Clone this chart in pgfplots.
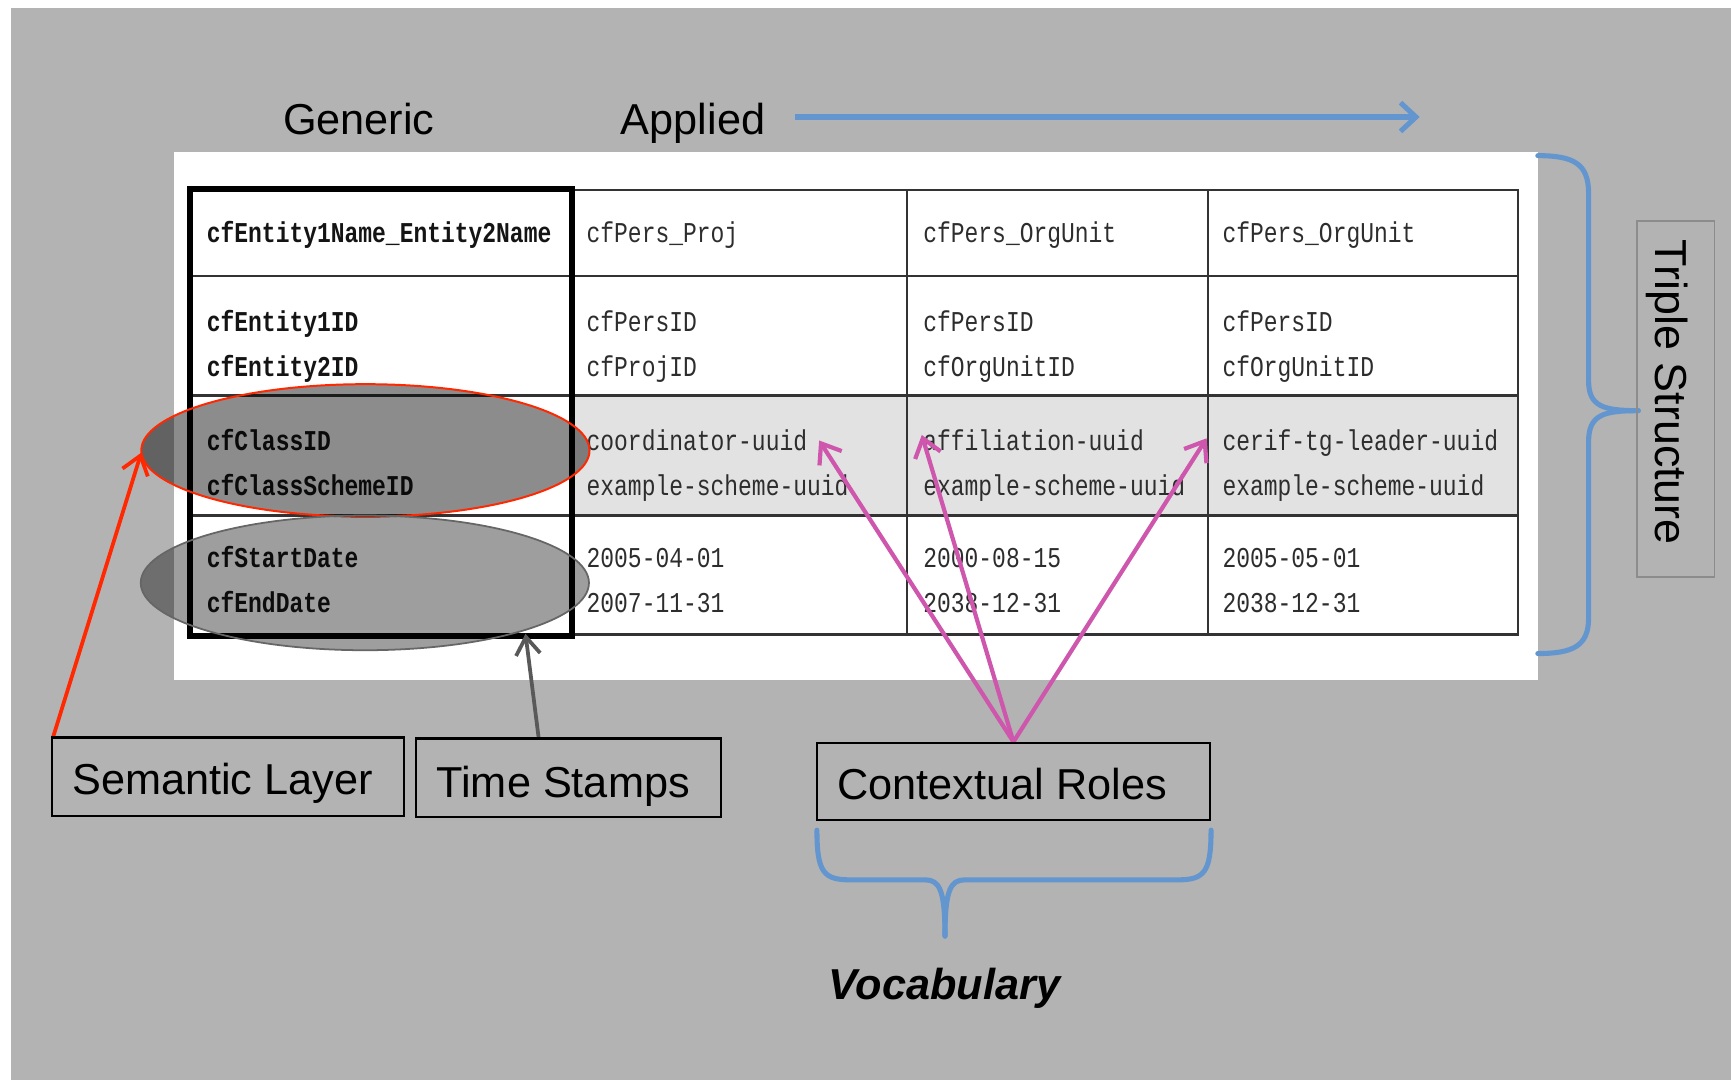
\documentclass[border=0pt]{standalone}
\usepackage{graphicx}
\usepackage{pgfplots}
\pgfplotsset{compat=1.18}
\usepackage{fontspec}
\setmainfont{Liberation Sans}
\setmonofont{Liberation Mono}
\usetikzlibrary{arrows.meta}
\definecolor{bg}{RGB}{179,179,179}
\definecolor{bl}{RGB}{99,150,206}
\definecolor{pk}{RGB}{206,86,172}
\definecolor{rd}{RGB}{255,40,0}
\definecolor{rowgray}{RGB}{226,226,226}
\definecolor{txt}{RGB}{45,45,45}
\newcommand{\hd}{\fontsize{19.6}{22}\selectfont}
\newcommand{\tb}[1]{\scalebox{0.8}[1]{\fontsize{13}{15}\ttfamily #1}}
\newcommand{\tbb}[1]{\scalebox{0.8}[1]{\fontsize{13}{15}\ttfamily\bfseries #1}}
\tikzset{
  tl/.style={anchor=base west, inner sep=0pt, text=txt},
  tk/.style={anchor=base west, inner sep=0pt, text=black!92},
  hl/.style={anchor=base west, inner sep=0pt, text=black},
  pka/.style={pk, line width=1.9pt, -{Straight Barb[length=8pt,width=12pt,line width=1.9pt]}}}
\begin{document}
\begin{tikzpicture}
\begin{axis}[scale only axis, width=784pt, height=489pt,
  xmin=0, xmax=1568, ymin=0, ymax=978, y dir=reverse,
  hide axis, clip=false]
% background
\fill[white] (0,0) rectangle (1568,978);
\fill[bg] (10,7) rectangle (1568,978);
\fill[white] (158,138) rectangle (1393,616);
\fill[rowgray] (518,358) rectangle (1375,467);
% table grid
\draw[black!80, line width=1.2pt] (518,172) -- (1375,172) -- (1375,575) -- (518,575);
\draw[black!80, line width=1.3pt] (172,250) -- (1375,250);
\draw[black!80, line width=1.3pt] (172,358) -- (1375,358);
\draw[black!80, line width=1.3pt] (172,467) -- (1375,467);
\draw[black!80, line width=0.9pt] (822,172) -- (822,575);
\draw[black!80, line width=0.9pt] (1094,172) -- (1094,575);
\draw[black, line width=2.6pt] (172,171) rectangle (518,576);
% table text: generic column
\node[tk] at (187,220) {\tbb{cfEntity1Name\_Entity2Name}};
\node[tk] at (187,300) {\tbb{cfEntity1ID}};
\node[tk] at (187,341) {\tbb{cfEntity2ID}};
\node[tk] at (187,408) {\tbb{cfClassID}};
\node[tk] at (187,449) {\tbb{cfClassSchemeID}};
\node[tk] at (187,514) {\tbb{cfStartDate}};
\node[tk] at (187,555) {\tbb{cfEndDate}};
% applied columns
\node[tl] at (531,220) {\tb{cfPers\_Proj}};
\node[tl] at (836,220) {\tb{cfPers\_OrgUnit}};
\node[tl] at (1107,220) {\tb{cfPers\_OrgUnit}};
\node[tl] at (531,300) {\tb{cfPersID}};
\node[tl] at (531,341) {\tb{cfProjID}};
\node[tl] at (836,300) {\tb{cfPersID}};
\node[tl] at (836,341) {\tb{cfOrgUnitID}};
\node[tl] at (1107,300) {\tb{cfPersID}};
\node[tl] at (1107,341) {\tb{cfOrgUnitID}};
\node[tl] at (531,408) {\tb{coordinator-uuid}};
\node[tl] at (531,449) {\tb{example-scheme-uuid}};
\node[tl] at (836,408) {\tb{affiliation-uuid}};
\node[tl] at (836,449) {\tb{example-scheme-uuid}};
\node[tl] at (1107,408) {\tb{cerif-tg-leader-uuid}};
\node[tl] at (1107,449) {\tb{example-scheme-uuid}};
\node[tl] at (531,514) {\tb{2005-04-01}};
\node[tl] at (531,555) {\tb{2007-11-31}};
\node[tl] at (836,514) {\tb{2000-08-15}};
\node[tl] at (836,555) {\tb{2038-12-31}};
\node[tl] at (1107,514) {\tb{2005-05-01}};
\node[tl] at (1107,555) {\tb{2038-12-31}};
% ellipses
\filldraw[draw=rd, line width=0.9pt, fill=black, fill opacity=0.45] (331,408) ellipse [x radius=101.5pt, y radius=30pt];
\filldraw[draw=black!60, line width=0.8pt, fill=black, fill opacity=0.38] (330.5,528) ellipse [x radius=101.5pt, y radius=30.5pt];
% headings
\node[hl] at (256,122) {\hd Generic};
\node[hl] at (562,122) {\hd Applied};
\draw[bl, line width=2.3pt, -{Straight Barb[length=7pt,width=13pt,line width=2.3pt]}] (720,106) -- (1286,106);
% right brace
\draw[bl, line width=2.3pt, line cap=round] (1393,141) .. controls (1425,141) and (1439,148) .. (1439,175) -- (1439,345) .. controls (1439,368) and (1452,372) .. (1484,372);
\draw[bl, line width=2.3pt, line cap=round] (1393,592) .. controls (1425,592) and (1439,585) .. (1439,560) -- (1439,400) .. controls (1439,376) and (1452,372) .. (1484,372);
\draw[black!45, line width=0.8pt] (1483,200) rectangle (1553,523);
\node[rotate=-90, anchor=base west, inner sep=0pt] at (1500,217) {\fontsize{20.3}{22}\selectfont Triple Structure};
% arrows
\draw[rd, line width=1.7pt, -{Straight Barb[length=8pt,width=12pt,line width=1.7pt]}] (48,668) -- (128,410);
\draw[black!65, line width=1.7pt, -{Straight Barb[length=8pt,width=11pt,line width=1.7pt]}] (488,669) -- (476,574);
\draw[pka] (918,672) -- (742,399);
\draw[pka] (918,672) -- (835,394);
\draw[pka] (918,672) -- (1093,397);
% boxes
\draw[black, line width=1pt] (47,668) rectangle (366,739);
\draw[black, line width=1pt] (377,669) rectangle (653,740);
\draw[black, line width=1pt] (740,673) rectangle (1096,743);
\node[hl] at (65,720) {\hd Semantic Layer};
\node[hl] at (395,722) {\hd Time Stamps};
\node[hl] at (758,724) {\hd Contextual Roles};
% bottom brace
\draw[bl, line width=2.3pt, line cap=round] (740,752) .. controls (740,790) and (746,797) .. (770,797) -- (838,797) .. controls (851,797) and (856,806) .. (856,848);
\draw[bl, line width=2.3pt, line cap=round] (1097,752) .. controls (1097,790) and (1091,797) .. (1067,797) -- (874,797) .. controls (861,797) and (856,806) .. (856,848);
\node[hl] at (750,905) {\hd\bfseries\itshape Vocabulary};
\end{axis}
\end{tikzpicture}
\end{document}
